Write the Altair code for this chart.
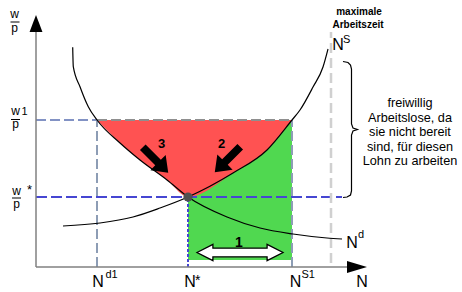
import altair as alt
import pandas as pd

# ---------------- economic values (N = employment, w/p = real wage) ----------------
N_D1, N_STAR, N_S1, N_MAX = 6.1, 15.2, 25.6, 29.5
W_STAR, W_1 = 7.0, 14.7

demand_N = [3.67, 3.73, 4.4, 5.23, 6.1, 8.4, 10.4, 13.1, 15.2, 19.1, 22.4, 25.7, 29.1, 30.6]
demand_W = [21.97, 20.03, 18.03, 16.03, 14.7, 12.4, 10.7, 8.7, 7.0, 5.0, 3.9, 3.3, 2.9, 2.8]
supply_N = [2.7, 6.4, 9.7, 12.4, 15.2, 19.7, 23.1, 25.6, 26.4, 27.7, 28.7, 29.2]
supply_W = [4.1, 4.4, 5.0, 5.9, 7.0, 9.4, 11.7, 14.7, 15.7, 18.0, 20.0, 21.8]
GREEN_FLOOR = 0.7

info_lines = ["freiwillig", "Arbeitslose, da", "sie nicht bereit", "sind, für diesen", "Lohn zu arbeiten"]

# ---------------- scales ----------------
XS = alt.Scale(domain=[-3.6, 42.6], nice=False, zero=False)
YS = alt.Scale(domain=[-2.5, 26.7], nice=False, zero=False)
FONT = "Liberation Sans"


def pos():
    return dict(x=alt.X("x:Q", scale=XS, axis=None), y=alt.Y("y:Q", scale=YS, axis=None))


def seg_layer(rows, **style):
    df = pd.DataFrame(rows, columns=["x", "y", "x2", "y2"])
    return alt.Chart(df).mark_rule(**style).encode(x2="x2:Q", y2="y2:Q", **pos())


demand = pd.DataFrame({"x": demand_N, "y": demand_W})
supply = pd.DataFrame({"x": supply_N, "y": supply_W})

# red area: between w1 and the lower envelope of both curves
red_df = pd.concat([
    demand[(demand.x >= N_D1) & (demand.x <= N_STAR)],
    supply[(supply.x > N_STAR) & (supply.x <= N_S1)],
])
red_df = red_df.assign(y2=W_1)
green_df = supply[(supply.x >= N_STAR) & (supply.x <= N_S1)].assign(y2=GREEN_FLOOR)

green = alt.Chart(green_df).mark_area(color="#50d850", interpolate="monotone", opacity=1).encode(
    y2="y2:Q", **pos())
red = alt.Chart(red_df).mark_area(color="#ff5252", interpolate="monotone", opacity=1).encode(
    y2="y2:Q", **pos())

# dashed guides
w1_left = seg_layer([[0, W_1, N_D1, W_1]], color="#8292c4", strokeWidth=2, strokeDash=[10, 4])
w1_red = seg_layer([[N_D1, W_1, N_S1, W_1]], color="#8f8f8f", strokeWidth=2, strokeDash=[10, 4])
verts = seg_layer([[N_D1, 0, N_D1, W_1], [N_S1, 0, N_S1, W_1]], color="#8d9db5",
                  strokeWidth=2, strokeDash=[10, 4])
wstar = seg_layer([[0, W_STAR, 30.6, W_STAR]], color="#4646d2", strokeWidth=2, strokeDash=[11, 4])
nstar = seg_layer([[N_STAR, 0, N_STAR, W_STAR]], color="#4646d2", strokeWidth=2, strokeDash=[3, 2])
nmax = seg_layer([[N_MAX, 0.4, N_MAX, 23.5]], color="#d0d0d0", strokeWidth=2.5, strokeDash=[10, 5])

# axes
axes = seg_layer([[0, 0, 0, 23.5], [0, 0, 31.1, 0]], color="#808080", strokeWidth=1.5)
arrow_df = pd.DataFrame({"x": [0, 32.1], "y": [24.35, 0]})
y_head = alt.Chart(arrow_df.iloc[[0]]).mark_point(
    shape="M 0 -1 L 0.76 1 L -0.76 1 Z", size=289, filled=True, color="black", opacity=1
).encode(**pos())
x_head = alt.Chart(arrow_df.iloc[[1]]).mark_point(
    shape="M 1 0 L -1 -0.6 L -1 0.6 Z", size=400, filled=True, color="black", opacity=1
).encode(**pos())

# curves
d_line = alt.Chart(demand).mark_line(color="black", strokeWidth=1.2, interpolate="monotone").encode(**pos())
s_line = alt.Chart(supply).mark_line(color="black", strokeWidth=1.2, interpolate="monotone").encode(**pos())

# equilibrium
eq = alt.Chart(pd.DataFrame({"x": [N_STAR], "y": [W_STAR]})).mark_circle(
    size=85, color="#505050", opacity=1).encode(**pos())

# big black arrows 3 and 2
ARROW = "M -1 -0.22 L 0.2 -0.22 L 0.2 -0.6 L 1 0 L 0.2 0.6 L 0.2 0.22 L -1 0.22 Z"
arr3 = alt.Chart(pd.DataFrame({"x": [11.95], "y": [10.7]})).mark_point(
    shape=ARROW, size=1296, angle=45, filled=True, color="black", opacity=1).encode(**pos())
arr2 = alt.Chart(pd.DataFrame({"x": [19.15], "y": [10.75]})).mark_point(
    shape=ARROW, size=1296, angle=135, filled=True, color="black", opacity=1).encode(**pos())

# double arrow "1"
DBL = ("M -1 0 L -0.63 -0.19 L -0.63 -0.1 L 0.63 -0.1 L 0.63 -0.19 L 1 0 "
       "L 0.63 0.19 L 0.63 0.1 L -0.63 0.1 L -0.63 0.19 Z")
dbl = alt.Chart(pd.DataFrame({"x": [20.4], "y": [1.45]})).mark_point(
    shape=DBL, size=7396, filled=True, fill="white", stroke="black", strokeWidth=1.3, opacity=1
).encode(**pos())

# bracket
br_x = [30.7, 31.2, 31.45, 31.55, 31.55, 31.7, 32.15, 31.7, 31.55, 31.55, 31.45, 31.1, 30.7]
br_y = [20.55, 20.45, 20.2, 19.8, 14.3, 13.9, 13.75, 13.6, 13.2, 7.6, 7.2, 7.0, 6.95]
bracket = alt.Chart(pd.DataFrame({"x": br_x, "y": br_y, "i": range(len(br_x))})).mark_line(
    color="black", strokeWidth=1.2).encode(order="i:Q", **pos())

# fraction bars
bars = seg_layer([[-2.55, 24.5, -1.65, 24.5], [-2.5, 14.75, -1.6, 14.75], [-2.4, 6.9, -1.5, 6.9]],
                 color="black", strokeWidth=1)


def text_layer(rows, align="center", weight="normal", **extra):
    df = pd.DataFrame(rows, columns=["x", "y", "t", "s"])
    return alt.Chart(df).mark_text(font=FONT, align=align, baseline="alphabetic",
                                   fontWeight=weight, color="black", **extra).encode(
        text="t:N", size=alt.Size("s:Q", scale=None, legend=None), **pos())


# w over p fractions as two-line texts
t_frac = text_layer([
    [-2.13, 24.875, "w\np", 12],
    [-2.05, 15.25, "w\np", 12],
    [-1.95, 7.25, "w\np", 12],
], lineBreak="\n", lineHeight=13.5)

t_center = text_layer([
    [N_D1 + 0.1, -2.0, "N", 16], [N_STAR + 0.2, -2.0, "N", 16], [N_S1 + 0.35, -2.0, "N", 16],
    [32.6, -2.0, "N", 16], [30.2, 21.7, "N", 16], [31.6, 1.9, "N", 16],
] + [[37.4, 15.96 - 1.445 * i, line, 12.7] for i, line in enumerate(info_lines)])

t_left = text_layer([
    [-1.45, 15.2, "1", 11], [-0.9, 7.3, "*", 13],
    [6.95, -1.1, "d1", 11], [15.9, -1.8, "*", 14], [26.55, -1.1, "S1", 11],
    [30.7, 22.4, "S", 11], [32.2, 2.9, "d", 11],
], align="left")

t_bold = text_layer([
    [32.3, 25.2, "maximale", 10], [32.2, 23.9, "Arbeitszeit", 10],
    [12.55, 11.9, "3", 13], [18.55, 11.9, "2", 13], [20.3, 2.0, "1", 14],
], weight="bold")

chart = alt.layer(
    green, red, w1_left, w1_red, verts, wstar, nstar, nmax, axes, y_head, x_head,
    d_line, s_line, eq, arr3, arr2, dbl, bracket, bars, t_frac, t_center, t_left, t_bold,
).properties(
    width=462, height=292, padding=0, autosize=alt.AutoSizeParams(type="none")
).configure_view(stroke=None)

chart.save("out.html", embed_options={"renderer": "svg", "actions": False})
